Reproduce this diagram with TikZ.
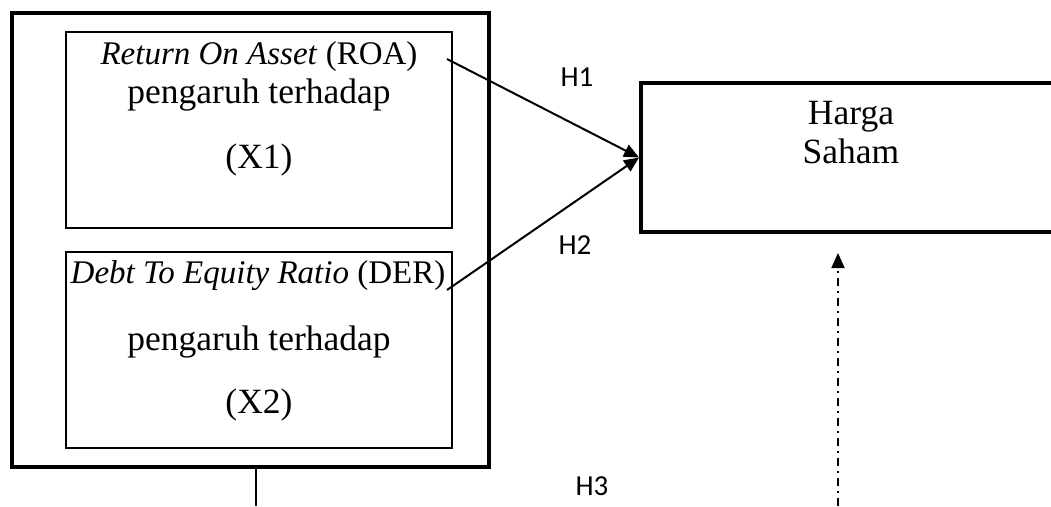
\documentclass[tikz,border=0pt]{standalone}
\usepackage{fontspec}
\setmainfont{Liberation Serif}
\newfontfamily\hfont{Carlito}
\usetikzlibrary{arrows.meta}
\begin{document}
\begin{tikzpicture}[x=1pt,y=-1pt,
  thickbox/.style={draw, line width=4pt, inner sep=0pt},
  thinbox/.style={draw, line width=1.5pt, inner sep=0pt},
  serif/.style={font=\fontsize{33}{36}\selectfont, inner sep=0pt, anchor=base},
  serifw/.style={font=\fontsize{35.5}{38}\selectfont, inner sep=0pt, anchor=base},
  hlabel/.style={font=\hfont\fontsize{29}{32}\selectfont, inner sep=0pt, anchor=base},
  conn/.style={line width=2pt, -{Triangle[length=15pt,width=13pt]}},
  dashdot/.style={line width=1.8pt, dash pattern=on 8pt off 5pt on 2pt off 5pt, -{Triangle[length=15pt,width=13pt]}}]
\useasboundingbox (0,0) rectangle (1051,506);
\clip (0,0) rectangle (1051,506);
% outer box
\node[thickbox, minimum width=477pt, minimum height=454pt] (outer) at (250.5,239.5) {};
% inner boxes
\node[thinbox, minimum width=386pt, minimum height=196pt] (b1) at (259,130) {};
\node[thinbox, minimum width=386pt, minimum height=196pt] (b2) at (259,350) {};
% texts box 1
\node[serif] (t1a) at (259,64) {\textit{Return On Asset} (ROA)};
\node[serifw] (t1b) at (259,103) {pengaruh terhadap};
\node[serifw] (t1c) at (259,168) {(X1)};
% texts box 2
\node[serif] (t2a) at (258,283) {\textit{Debt To Equity Ratio} (DER)};
\node[serifw] (t2b) at (259,350) {pengaruh terhadap};
\node[serifw] (t2c) at (259,413) {(X2)};
% right box
\node[thickbox, minimum width=440pt, minimum height=149pt] (hs) at (861,157.5) {};
\node[serifw] (hsa) at (851,124) {Harga};
\node[serifw] (hsb) at (851,163) {Saham};
% connectors
\coordinate (s1) at (447,59);
\coordinate (s2) at (447,290);
\draw[conn] (s1) -- (hs.west);
\draw[conn] (s2) -- (hs.west);
% vertical line below outer box
\coordinate (vtop) at ([xshift=5.5pt]outer.south);
\coordinate (vbot) at (256,506);
\draw[line width=1.5pt] (vtop) -- (vbot);
% dash-dot arrow
\coordinate (dbot) at (838,506);
\coordinate (dtop) at (838,253);
\draw[dashdot] (dbot) -- (dtop);
% labels
\node[hlabel] (h1) at (577,86) {H1};
\node[hlabel] (h2) at (575,254) {H2};
\node[hlabel] (h3) at (592,495) {H3};
\end{tikzpicture}
\end{document}
